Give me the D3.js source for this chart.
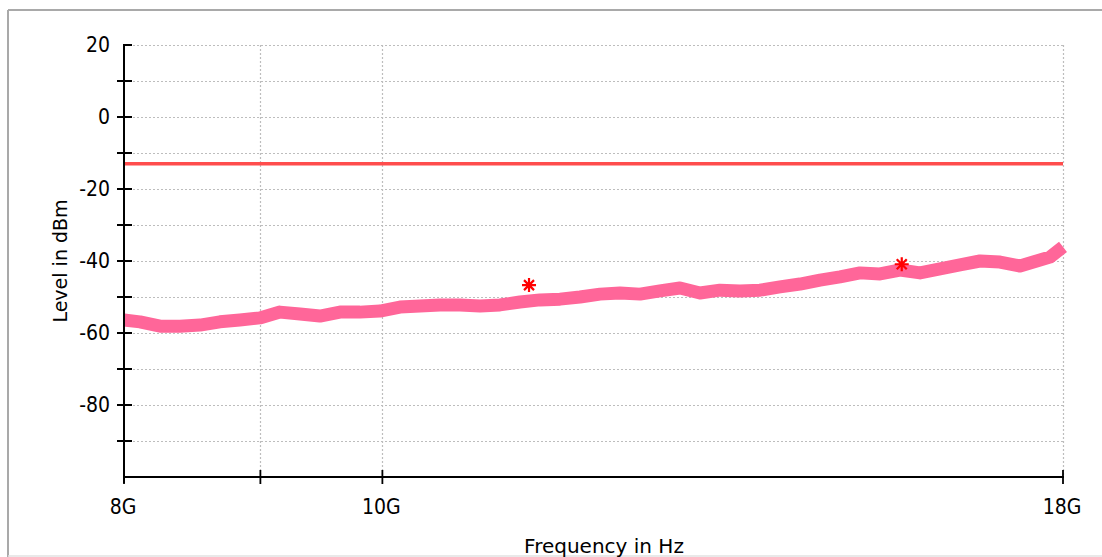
<!DOCTYPE html>
<html>
<head>
<meta charset="utf-8">
<script src="https://cdn.jsdelivr.net/npm/d3@7"></script>
<style>
  html, body { margin: 0; padding: 0; background: #ffffff; }
  svg { display: block; }
</style>
</head>
<body>
<svg id="chart" width="1102" height="557"></svg>
<script>
// ---- data ----
const freqGHz = [8.000, 8.111, 8.253, 8.396, 8.543, 8.691, 8.842, 8.996, 9.153, 9.313,
  9.475, 9.640, 9.808, 9.979, 10.153, 10.330, 10.510, 10.693, 10.880, 11.069,
  11.262, 11.458, 11.658, 11.861, 12.068, 12.278, 12.492, 12.709, 12.931, 13.156,
  13.385, 13.618, 13.856, 14.097, 14.343, 14.593, 14.847, 15.106, 15.369, 15.637,
  15.909, 16.186, 16.468, 16.755, 17.047, 17.344, 17.646, 17.799, 18.000];
const levelDbm = [-56.4, -56.9, -58.1, -58.1, -57.8, -56.9, -56.4, -55.8, -54.2, -54.7,
  -55.3, -54.2, -54.2, -53.9, -52.8, -52.5, -52.2, -52.2, -52.5, -52.2,
  -51.4, -50.8, -50.6, -50.0, -49.2, -48.9, -49.2, -48.3, -47.5, -48.9,
  -48.1, -48.3, -48.1, -47.2, -46.4, -45.3, -44.4, -43.3, -43.6, -42.5,
  -43.3, -42.2, -41.1, -40.0, -40.3, -41.4, -39.7, -38.9, -36.1];
const limitDbm = -13;
const markerFreqGHz = [11.35, 15.66];
const markerLevelDbm = [-46.7, -40.9];
const yTickValues = [20, 10, 0, -10, -20, -30, -40, -50, -60, -70, -80, -90, -100];
const yTickLabels = ["20", "", "0", "", "-20", "", "-40", "", "-60", "", "-80", "", ""];
const xTickValuesGHz = [8, 9, 10, 18];
const xTickLabels = ["8G", "", "10G", "18G"];
const xTitle = "Frequency in Hz";
const yTitle = "Level in dBm";

// ---- chart ----
const svg = d3.select("#chart");
const pLeft = 124, pRight = 1063, pTop = 45, pBottom = 477;

const x = d3.scaleLog().domain([8e9, 18e9]).range([pLeft, pRight]);
const y = d3.scaleLinear().domain([-100, 20]).range([pBottom, pTop]);

// frame
svg.append("line").attr("x1", 8).attr("x2", 1102).attr("y1", 10).attr("y2", 10)
  .attr("stroke", "#a9a9a9").attr("stroke-width", 2);
svg.append("line").attr("x1", 8).attr("x2", 8).attr("y1", 10).attr("y2", 557)
  .attr("stroke", "#a9a9a9").attr("stroke-width", 2);
svg.append("line").attr("x1", 8).attr("x2", 1102).attr("y1", 556).attr("y2", 556)
  .attr("stroke", "#e2e2e2").attr("stroke-width", 1.5);

// grid
const grid = svg.append("g").attr("stroke", "#bdbdbd").attr("stroke-width", 1.2)
  .attr("stroke-dasharray", "2,2");
grid.selectAll("line.h").data(yTickValues.filter(v => v > -100)).enter().append("line")
  .attr("x1", pLeft + 1).attr("x2", pRight)
  .attr("y1", d => Math.round(y(d)) + 0.5).attr("y2", d => Math.round(y(d)) + 0.5);
grid.selectAll("line.v").data(xTickValuesGHz.filter(v => v > 8)).enter().append("line")
  .attr("x1", d => Math.round(x(d * 1e9)) + 0.5).attr("x2", d => Math.round(x(d * 1e9)) + 0.5)
  .attr("y1", pTop).attr("y2", pBottom);

// limit line
svg.append("line")
  .attr("x1", x(8e9)).attr("x2", x(18e9))
  .attr("y1", y(limitDbm)).attr("y2", y(limitDbm))
  .attr("stroke", "#ff4d4d").attr("stroke-width", 3.5);

// trace
const line = d3.line()
  .x((d, i) => x(freqGHz[i] * 1e9))
  .y(d => y(d));
svg.append("path")
  .datum(levelDbm)
  .attr("d", line)
  .attr("fill", "none")
  .attr("stroke", "#ff6699")
  .attr("stroke-width", 13)
  .attr("stroke-linejoin", "round");

// markers (8-arm asterisks)
const mk = svg.append("g").attr("stroke", "#ff0000").attr("stroke-width", 2.2).attr("fill", "none");
markerFreqGHz.forEach((f, i) => {
  const cx = x(f * 1e9), cy = y(markerLevelDbm[i]);
  const r = 7, rd = 5;
  mk.append("path").attr("d",
    `M${cx},${cy - r}V${cy + r}M${cx - r},${cy}H${cx + r}` +
    `M${cx - rd},${cy - rd}L${cx + rd},${cy + rd}M${cx - rd},${cy + rd}L${cx + rd},${cy - rd}`);
});

// axes
const axisFont = "'Liberation Sans Narrow', 'DejaVu Sans Condensed', 'Liberation Sans', sans-serif";
const ax = svg.append("g").attr("stroke", "#000").attr("stroke-width", 2);
ax.append("line").attr("x1", pLeft).attr("x2", pLeft).attr("y1", pTop - 1).attr("y2", pBottom + 6);
ax.append("line").attr("x1", pLeft).attr("x2", pRight + 1).attr("y1", pBottom).attr("y2", pBottom);
ax.selectAll("line.yt").data(yTickValues.filter(v => v > -100)).enter().append("line")
  .attr("x1", d => d === 20 ? pLeft : pLeft - 7).attr("x2", pLeft + 8)
  .attr("y1", d => y(d)).attr("y2", d => y(d));
ax.selectAll("line.xt").data(xTickValuesGHz).enter().append("line")
  .attr("x1", d => x(d * 1e9)).attr("x2", d => x(d * 1e9))
  .attr("y1", d => d === 8 ? pBottom : pBottom - 7).attr("y2", pBottom + 7)
  .attr("stroke-width", 1.8);

svg.selectAll("text.yl").data(yTickValues).enter().append("text")
  .attr("x", pLeft - 14).attr("y", d => y(d))
  .attr("dy", "0.35em")
  .attr("text-anchor", "end")
  .attr("font-family", axisFont).attr("font-size", 21).attr("fill", "#000")
  .text((d, i) => yTickLabels[i]);

svg.selectAll("text.xl").data(xTickValuesGHz).enter().append("text")
  .attr("x", d => x(d * 1e9) - 1).attr("y", 514)
  .attr("text-anchor", "middle")
  .attr("font-family", axisFont).attr("font-size", 21).attr("fill", "#000")
  .text((d, i) => xTickLabels[i]);

// titles
svg.append("text")
  .attr("transform", `translate(67,${(pTop + pBottom) / 2}) rotate(-90)`)
  .attr("text-anchor", "middle")
  .attr("font-family", "'DejaVu Sans', sans-serif").attr("font-size", 19).attr("fill", "#000")
  .text(yTitle);
svg.append("text")
  .attr("x", 604).attr("y", 553)
  .attr("text-anchor", "middle")
  .attr("font-family", "'DejaVu Sans', sans-serif").attr("font-size", 20).attr("fill", "#000")
  .text(xTitle);
</script>
</body>
</html>
